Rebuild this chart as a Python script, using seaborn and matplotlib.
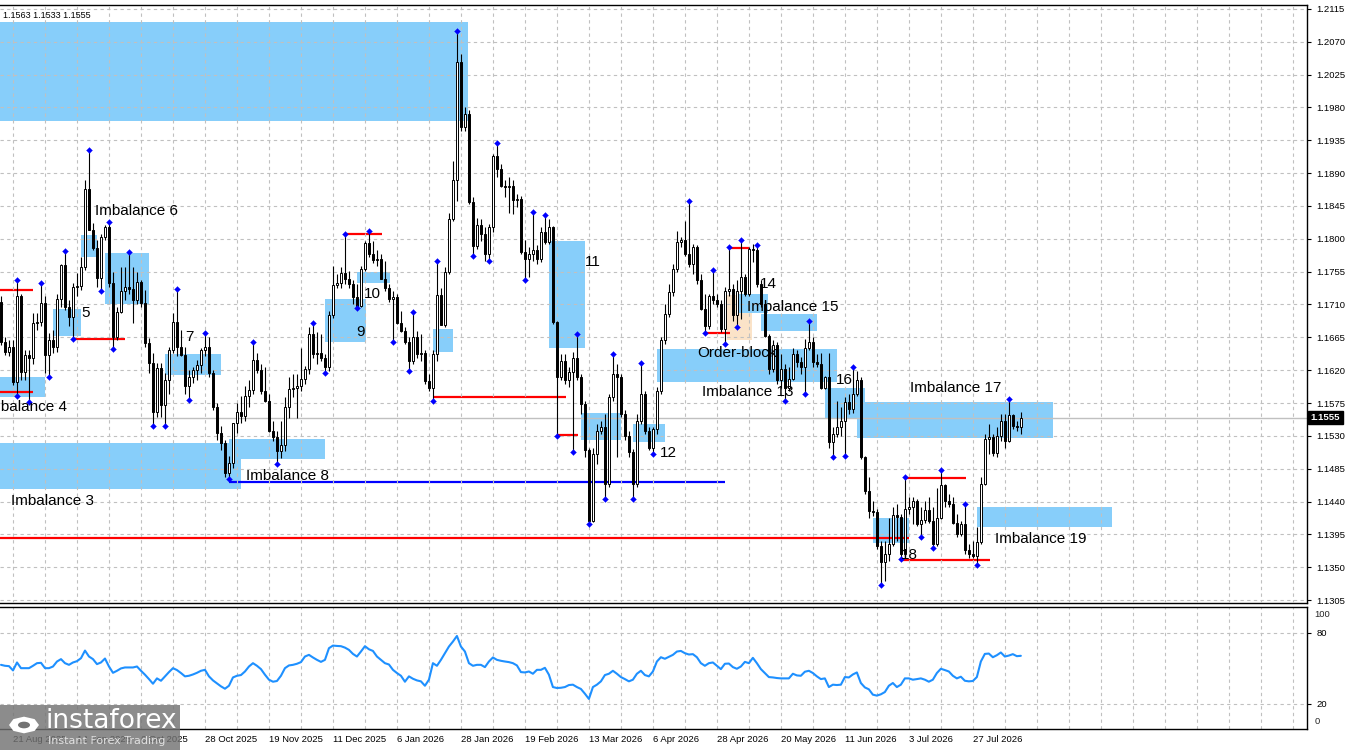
import matplotlib
matplotlib.use("Agg")
import numpy as np
import matplotlib.pyplot as plt
import matplotlib.transforms as mtransforms
from matplotlib.patches import Rectangle, Circle, RegularPolygon
import seaborn as sns

# ------------------------------
# Daily EUR/USD candles
# ------------------------------
opens = [
    1.1714, 1.1659, 1.1645, 1.1652, 1.1604, 1.1721, 1.1618, 1.1641, 1.1636, 1.1684,
    1.1686, 1.1712, 1.1641, 1.1661, 1.1652, 1.1718, 1.1764, 1.1707, 1.1693, 1.1734,
    1.1736, 1.1762, 1.1868, 1.1812, 1.1788, 1.1746, 1.1803, 1.1816, 1.1739, 1.1666,
    1.1700, 1.1728, 1.1734, 1.1731, 1.1716, 1.1741, 1.1712, 1.1657, 1.1630, 1.1563,
    1.1623, 1.1572, 1.1607, 1.1648, 1.1686, 1.1652, 1.1641, 1.1598, 1.1611, 1.1620,
    1.1627, 1.1647, 1.1652, 1.1616, 1.1570, 1.1534, 1.1520, 1.1479, 1.1493, 1.1547,
    1.1563, 1.1557, 1.1584, 1.1593, 1.1634, 1.1620, 1.1592, 1.1578, 1.1537, 1.1528,
    1.1509, 1.1518, 1.1569, 1.1594, 1.1596, 1.1599, 1.1608, 1.1621, 1.1669, 1.1642,
    1.1644, 1.1637, 1.1624, 1.1695, 1.1737, 1.1739, 1.1753, 1.1745, 1.1738, 1.1720,
    1.1708, 1.1759, 1.1794, 1.1779, 1.1771, 1.1773, 1.1745, 1.1733, 1.1717, 1.1720,
    1.1685, 1.1674, 1.1658, 1.1633, 1.1666, 1.1642, 1.1644, 1.1605, 1.1596, 1.1642,
    1.1723, 1.1682, 1.1754, 1.1827, 1.1881, 1.2042, 1.1953, 1.1971, 1.1850, 1.1790,
    1.1819, 1.1806, 1.1779, 1.1816, 1.1914, 1.1896, 1.1873, 1.1871, 1.1873, 1.1853,
    1.1855, 1.1782, 1.1773, 1.1779, 1.1785, 1.1773, 1.1809, 1.1795, 1.1816, 1.1686,
    1.1610, 1.1633, 1.1606, 1.1617, 1.1636, 1.1610, 1.1574, 1.1510, 1.1414, 1.1505,
    1.1537, 1.1542, 1.1464, 1.1583, 1.1615, 1.1610, 1.1560, 1.1530, 1.1508, 1.1464,
    1.1551, 1.1588, 1.1537, 1.1514, 1.1540, 1.1592, 1.1661, 1.1697, 1.1727, 1.1758,
    1.1795, 1.1799, 1.1779, 1.1766, 1.1789, 1.1743, 1.1704, 1.1681, 1.1722, 1.1716,
    1.1711, 1.1677, 1.1729, 1.1731, 1.1695, 1.1729, 1.1747, 1.1725, 1.1786, 1.1784,
    1.1738, 1.1711, 1.1667, 1.1622, 1.1654, 1.1607, 1.1622, 1.1596, 1.1608, 1.1642,
    1.1631, 1.1624, 1.1651, 1.1658, 1.1631, 1.1629, 1.1596, 1.1610, 1.1521, 1.1533,
    1.1542, 1.1551, 1.1576, 1.1567, 1.1587, 1.1607, 1.1501, 1.1455, 1.1427, 1.1425,
    1.1379, 1.1357, 1.1368, 1.1382, 1.1421, 1.1419, 1.1368, 1.1430, 1.1432, 1.1441,
    1.1409, 1.1415, 1.1428, 1.1414, 1.1382, 1.1418, 1.1462, 1.1441, 1.1437, 1.1411,
    1.1395, 1.1409, 1.1373, 1.1368, 1.1366, 1.1384, 1.1464, 1.1526, 1.1528, 1.1507,
    1.1530, 1.1551, 1.1523, 1.1558, 1.1544, 1.1542,
]
highs = [
    1.1721, 1.1666, 1.1661, 1.1661, 1.1744, 1.1725, 1.1648, 1.1648, 1.1698, 1.1698,
    1.1739, 1.1721, 1.1671, 1.1675, 1.1725, 1.1766, 1.1783, 1.1716, 1.1739, 1.1753,
    1.1775, 1.1880, 1.1921, 1.1821, 1.1798, 1.1807, 1.1819, 1.1823, 1.1755, 1.1707,
    1.1762, 1.1762, 1.1782, 1.1762, 1.1755, 1.1743, 1.1730, 1.1664, 1.1643, 1.1630,
    1.1630, 1.1616, 1.1652, 1.1698, 1.1731, 1.1675, 1.1652, 1.1620, 1.1625, 1.1634,
    1.1650, 1.1671, 1.1666, 1.1620, 1.1575, 1.1543, 1.1525, 1.1502, 1.1548, 1.1575,
    1.1584, 1.1598, 1.1607, 1.1659, 1.1643, 1.1628, 1.1624, 1.1587, 1.1551, 1.1537,
    1.1551, 1.1583, 1.1610, 1.1615, 1.1615, 1.1651, 1.1626, 1.1679, 1.1684, 1.1672,
    1.1669, 1.1642, 1.1701, 1.1763, 1.1752, 1.1761, 1.1807, 1.1756, 1.1743, 1.1738,
    1.1763, 1.1797, 1.1811, 1.1797, 1.1784, 1.1779, 1.1770, 1.1738, 1.1729, 1.1724,
    1.1701, 1.1679, 1.1665, 1.1700, 1.1674, 1.1669, 1.1647, 1.1615, 1.1647, 1.1770,
    1.1733, 1.1761, 1.1835, 1.1907, 1.2085, 1.2053, 1.1980, 1.1976, 1.1857, 1.1829,
    1.1827, 1.1816, 1.1820, 1.1916, 1.1931, 1.1903, 1.1880, 1.1885, 1.1880, 1.1862,
    1.1859, 1.1798, 1.1789, 1.1837, 1.1791, 1.1816, 1.1832, 1.1827, 1.1818, 1.1688,
    1.1642, 1.1642, 1.1624, 1.1645, 1.1670, 1.1615, 1.1578, 1.1514, 1.1514, 1.1546,
    1.1551, 1.1560, 1.1588, 1.1642, 1.1629, 1.1615, 1.1565, 1.1537, 1.1512, 1.1560,
    1.1630, 1.1592, 1.1542, 1.1542, 1.1597, 1.1665, 1.1711, 1.1738, 1.1766, 1.1811,
    1.1802, 1.1825, 1.1852, 1.1793, 1.1791, 1.1752, 1.1725, 1.1725, 1.1757, 1.1725,
    1.1716, 1.1734, 1.1789, 1.1738, 1.1743, 1.1799, 1.1752, 1.1789, 1.1793, 1.1791,
    1.1743, 1.1715, 1.1670, 1.1661, 1.1658, 1.1642, 1.1629, 1.1624, 1.1651, 1.1647,
    1.1638, 1.1663, 1.1687, 1.1665, 1.1642, 1.1644, 1.1612, 1.1644, 1.1542, 1.1578,
    1.1569, 1.1583, 1.1587, 1.1624, 1.1619, 1.1610, 1.1503, 1.1473, 1.1441, 1.1430,
    1.1386, 1.1386, 1.1418, 1.1432, 1.1437, 1.1423, 1.1473, 1.1446, 1.1446, 1.1443,
    1.1432, 1.1441, 1.1446, 1.1432, 1.1459, 1.1483, 1.1464, 1.1450, 1.1446, 1.1423,
    1.1414, 1.1437, 1.1382, 1.1386, 1.1405, 1.1473, 1.1533, 1.1546, 1.1533, 1.1542,
    1.1560, 1.1560, 1.1580, 1.1560, 1.1551, 1.1563,
]
lows = [
    1.1655, 1.1641, 1.1639, 1.1600, 1.1585, 1.1607, 1.1607, 1.1576, 1.1629, 1.1675,
    1.1680, 1.1616, 1.1610, 1.1643, 1.1645, 1.1707, 1.1703, 1.1680, 1.1663, 1.1721,
    1.1730, 1.1757, 1.1812, 1.1785, 1.1734, 1.1728, 1.1798, 1.1734, 1.1649, 1.1661,
    1.1698, 1.1716, 1.1725, 1.1684, 1.1711, 1.1707, 1.1652, 1.1616, 1.1544, 1.1556,
    1.1556, 1.1544, 1.1588, 1.1643, 1.1639, 1.1639, 1.1588, 1.1579, 1.1602, 1.1607,
    1.1616, 1.1639, 1.1611, 1.1566, 1.1525, 1.1511, 1.1474, 1.1471, 1.1486, 1.1534,
    1.1547, 1.1550, 1.1570, 1.1588, 1.1616, 1.1587, 1.1576, 1.1535, 1.1523, 1.1491,
    1.1500, 1.1509, 1.1555, 1.1583, 1.1554, 1.1592, 1.1601, 1.1615, 1.1637, 1.1628,
    1.1633, 1.1616, 1.1619, 1.1692, 1.1733, 1.1733, 1.1738, 1.1733, 1.1711, 1.1705,
    1.1706, 1.1756, 1.1775, 1.1767, 1.1763, 1.1745, 1.1729, 1.1713, 1.1659, 1.1683,
    1.1672, 1.1656, 1.1619, 1.1628, 1.1637, 1.1633, 1.1601, 1.1592, 1.1578, 1.1633,
    1.1682, 1.1679, 1.1752, 1.1825, 1.1852, 1.1948, 1.1948, 1.1848, 1.1777, 1.1786,
    1.1797, 1.1770, 1.1769, 1.1809, 1.1884, 1.1871, 1.1857, 1.1835, 1.1834, 1.1843,
    1.1779, 1.1744, 1.1747, 1.1770, 1.1766, 1.1768, 1.1793, 1.1793, 1.1683, 1.1530,
    1.1606, 1.1601, 1.1597, 1.1508, 1.1606, 1.1560, 1.1501, 1.1409, 1.1412, 1.1492,
    1.1533, 1.1444, 1.1460, 1.1578, 1.1501, 1.1556, 1.1524, 1.1501, 1.1444, 1.1460,
    1.1546, 1.1533, 1.1510, 1.1505, 1.1533, 1.1588, 1.1656, 1.1693, 1.1722, 1.1754,
    1.1789, 1.1777, 1.1761, 1.1752, 1.1738, 1.1702, 1.1671, 1.1677, 1.1711, 1.1706,
    1.1672, 1.1656, 1.1722, 1.1688, 1.1679, 1.1690, 1.1722, 1.1722, 1.1768, 1.1734,
    1.1706, 1.1665, 1.1615, 1.1617, 1.1601, 1.1596, 1.1578, 1.1592, 1.1606, 1.1624,
    1.1615, 1.1587, 1.1647, 1.1624, 1.1624, 1.1594, 1.1594, 1.1514, 1.1501, 1.1528,
    1.1530, 1.1503, 1.1560, 1.1562, 1.1585, 1.1498, 1.1450, 1.1418, 1.1420, 1.1375,
    1.1325, 1.1331, 1.1359, 1.1379, 1.1386, 1.1361, 1.1366, 1.1423, 1.1409, 1.1407,
    1.1392, 1.1411, 1.1411, 1.1377, 1.1379, 1.1416, 1.1432, 1.1432, 1.1409, 1.1391,
    1.1393, 1.1368, 1.1363, 1.1363, 1.1353, 1.1382, 1.1462, 1.1505, 1.1503, 1.1501,
    1.1523, 1.1514, 1.1521, 1.1539, 1.1537, 1.1533,
]
closes = [
    1.1659, 1.1645, 1.1652, 1.1604, 1.1721, 1.1618, 1.1641, 1.1636, 1.1684, 1.1686,
    1.1712, 1.1641, 1.1661, 1.1652, 1.1718, 1.1764, 1.1707, 1.1693, 1.1734, 1.1736,
    1.1762, 1.1868, 1.1812, 1.1788, 1.1746, 1.1803, 1.1816, 1.1739, 1.1666, 1.1700,
    1.1728, 1.1734, 1.1731, 1.1716, 1.1741, 1.1712, 1.1657, 1.1630, 1.1563, 1.1623,
    1.1572, 1.1607, 1.1648, 1.1686, 1.1652, 1.1641, 1.1598, 1.1611, 1.1620, 1.1627,
    1.1647, 1.1652, 1.1616, 1.1570, 1.1534, 1.1520, 1.1479, 1.1493, 1.1547, 1.1563,
    1.1557, 1.1584, 1.1593, 1.1634, 1.1620, 1.1592, 1.1578, 1.1537, 1.1528, 1.1509,
    1.1518, 1.1569, 1.1594, 1.1596, 1.1599, 1.1608, 1.1621, 1.1669, 1.1642, 1.1644,
    1.1637, 1.1624, 1.1695, 1.1737, 1.1739, 1.1753, 1.1745, 1.1738, 1.1720, 1.1708,
    1.1759, 1.1794, 1.1779, 1.1771, 1.1773, 1.1745, 1.1733, 1.1717, 1.1720, 1.1685,
    1.1674, 1.1658, 1.1633, 1.1666, 1.1642, 1.1644, 1.1605, 1.1596, 1.1642, 1.1723,
    1.1682, 1.1754, 1.1827, 1.1881, 1.2042, 1.1953, 1.1971, 1.1850, 1.1790, 1.1819,
    1.1806, 1.1779, 1.1816, 1.1914, 1.1896, 1.1873, 1.1871, 1.1873, 1.1853, 1.1855,
    1.1782, 1.1773, 1.1779, 1.1785, 1.1773, 1.1809, 1.1795, 1.1816, 1.1686, 1.1610,
    1.1633, 1.1606, 1.1617, 1.1636, 1.1610, 1.1574, 1.1510, 1.1414, 1.1505, 1.1537,
    1.1542, 1.1464, 1.1583, 1.1615, 1.1610, 1.1560, 1.1530, 1.1508, 1.1464, 1.1551,
    1.1588, 1.1537, 1.1514, 1.1540, 1.1592, 1.1661, 1.1697, 1.1727, 1.1758, 1.1795,
    1.1799, 1.1779, 1.1766, 1.1789, 1.1743, 1.1704, 1.1681, 1.1722, 1.1716, 1.1711,
    1.1677, 1.1729, 1.1731, 1.1695, 1.1729, 1.1747, 1.1725, 1.1786, 1.1784, 1.1738,
    1.1711, 1.1667, 1.1622, 1.1654, 1.1607, 1.1622, 1.1596, 1.1608, 1.1642, 1.1631,
    1.1624, 1.1651, 1.1658, 1.1631, 1.1629, 1.1596, 1.1610, 1.1521, 1.1533, 1.1542,
    1.1551, 1.1576, 1.1567, 1.1587, 1.1607, 1.1501, 1.1455, 1.1427, 1.1425, 1.1379,
    1.1357, 1.1368, 1.1382, 1.1421, 1.1419, 1.1368, 1.1430, 1.1432, 1.1441, 1.1409,
    1.1415, 1.1428, 1.1414, 1.1382, 1.1418, 1.1462, 1.1441, 1.1437, 1.1411, 1.1395,
    1.1409, 1.1373, 1.1368, 1.1366, 1.1384, 1.1464, 1.1526, 1.1528, 1.1507, 1.1530,
    1.1551, 1.1523, 1.1558, 1.1544, 1.1542, 1.1555,
]

# RSI values per bar
rsi = [
    52.9, 52.1, 51.8, 48.2, 54.9, 50.1, 50.1, 50.1, 52.1, 54.3,
    54.6, 50.1, 50.1, 51.5, 55.7, 57.7, 54.3, 52.9, 54.9, 56.0,
    58.5, 64.9, 59.9, 57.7, 53.5, 54.9, 58.2, 51.5, 46.2, 47.9,
    49.9, 50.7, 50.7, 50.7, 51.5, 47.9, 44.6, 40.9, 37.0, 41.5,
    39.5, 43.2, 46.8, 50.1, 48.5, 46.0, 43.2, 43.7, 44.8, 46.2,
    47.9, 48.7, 43.2, 39.8, 37.3, 34.8, 32.8, 35.3, 42.3, 43.7,
    44.3, 47.3, 51.5, 54.3, 52.1, 49.3, 44.6, 40.4, 38.7, 39.3,
    43.7, 50.1, 52.4, 52.9, 53.8, 55.2, 59.9, 61.3, 59.1, 57.1,
    55.4, 57.1, 66.9, 69.1, 68.8, 68.6, 67.4, 65.5, 62.1, 59.9,
    64.1, 68.6, 66.0, 64.6, 59.9, 57.1, 54.3, 53.2, 48.7, 46.0,
    43.7, 38.7, 43.2, 41.2, 39.8, 39.0, 35.3, 40.4, 54.3, 52.1,
    57.1, 62.7, 68.3, 72.5, 77.2, 68.3, 64.1, 54.3, 52.1, 52.9,
    52.9, 51.0, 55.7, 59.1, 57.1, 56.3, 55.7, 55.2, 54.3, 52.4,
    46.8, 46.5, 47.3, 45.4, 48.7, 48.7, 50.4, 44.6, 34.2, 33.4,
    33.6, 34.2, 35.9, 36.2, 34.2, 32.6, 28.6, 24.2, 34.2, 36.2,
    39.0, 44.3, 45.4, 47.9, 45.4, 42.6, 40.9, 39.0, 40.4, 45.4,
    47.9, 44.3, 43.2, 47.3, 55.7, 59.3, 58.0, 59.6, 61.3, 64.1,
    64.6, 62.7, 61.6, 61.9, 59.3, 54.3, 52.1, 54.3, 54.9, 52.1,
    49.3, 53.8, 54.0, 51.0, 49.6, 51.5, 55.4, 54.3, 58.8, 54.3,
    49.3, 46.0, 42.6, 42.3, 41.8, 41.5, 41.5, 41.5, 45.4, 44.0,
    43.7, 47.1, 47.9, 46.0, 43.2, 40.9, 41.5, 34.2, 36.2, 35.9,
    36.2, 42.6, 42.3, 44.8, 46.5, 37.6, 33.9, 32.3, 27.8, 27.0,
    28.1, 30.0, 35.3, 37.6, 34.2, 36.2, 41.5, 41.5, 40.4, 40.9,
    41.5, 40.4, 38.7, 40.4, 46.0, 49.6, 48.5, 47.3, 43.7, 41.5,
    42.9, 39.5, 39.0, 39.3, 42.6, 55.7, 62.1, 62.4, 59.3, 61.0,
    63.3, 59.9, 60.7, 61.9, 60.2, 60.5,
]

# fractal markers (bar indices)
fractal_up = [4, 10, 16, 22, 27, 32, 44, 51, 63, 78, 86, 92, 103, 109, 114, 124,
              133, 136, 144, 153, 160, 172, 178, 182, 185, 189, 202, 213, 226,
              235, 241, 252]
fractal_down = [4, 7, 12, 18, 25, 28, 38, 41, 47, 57, 69, 81, 89, 98, 102, 108,
                118, 122, 131, 139, 143, 147, 151, 158, 163, 176, 181, 184, 196,
                201, 208, 211, 220, 225, 230, 233, 244]

# imbalance zones (bar from, bar to, price low, price high)
zone_start = [-0.5, -0.5, -0.5, 13, 20, 26, 41, 57, 81, 89, 108, 137, 145, 158,
              164, 184, 190, 206, 214, 218, 244]
zone_end = [116.75, 11, 60, 20, 24, 37, 55, 81, 91.25, 97.25, 113, 146, 155, 166,
            209, 191.75, 204, 216, 263, 227, 277.75]
zone_low = [1.1961, 1.1583, 1.1457, 1.1667, 1.1775, 1.1710, 1.1613, 1.1498, 1.1658,
            1.1739, 1.1645, 1.1650, 1.1524, 1.1522, 1.1604, 1.1699, 1.1673, 1.1554,
            1.1527, 1.1383, 1.1405]
zone_high = [1.2097, 1.1610, 1.1520, 1.1704, 1.1805, 1.1780, 1.1642, 1.1526, 1.1717,
             1.1755, 1.1676, 1.1797, 1.1561, 1.1546, 1.1649, 1.1725, 1.1697, 1.1595,
             1.1576, 1.1418, 1.1432]

# order block
ob_start, ob_end, ob_low, ob_high = 181.5, 187.75, 1.1661, 1.1723

# red levels
level_price = [1.1730, 1.1590, 1.1663, 1.1806, 1.1583, 1.1531, 1.1787, 1.1671,
               1.1390, 1.1472, 1.1360]
level_start = [-0.5, -0.5, 18, 86, 108, 139, 181.75, 176, -0.5, 226, 225]
level_end = [8, 8, 31, 95.25, 141.25, 144.25, 187.25, 182.25, 227, 241.25, 247.25]

# blue level
blue_price, blue_start, blue_end = 1.1467, 57, 181

# labels
label_text = ["Imbalance 6", "5", "Imbalance 4", "7", "Imbalance 3", "Imbalance 8",
              "9", "10", "11", "12", "Order-block", "Imbalance 13", "14",
              "Imbalance 15", "16", "Imbalance 17", "18", "Imbalance 19"]
label_bar = [23.5, 20, 16.5, 46, 2.5, 61.25, 88.75, 90.75, 146, 164.75, 174,
             175.25, 189.75, 186.5, 208.75, 227.25, 225, 248.5]
label_price = [1.1838, 1.1699, 1.1569, 1.1665, 1.1441, 1.1475, 1.1672, 1.1725,
               1.1768, 1.1506, 1.1643, 1.1590, 1.1738, 1.1706, 1.1606, 1.1595,
               1.1367, 1.1389]
label_align = ["left"] * 18
label_align[2] = "right"

# date axis
date_bars = [3, 19, 35, 51, 67, 83, 99, 115, 131, 147, 163, 179, 195, 211, 227, 243]
date_labels = ["21 Aug 2025", "12 Sep 2025", "6 Oct 2025", "28 Oct 2025",
               "19 Nov 2025", "11 Dec 2025", "6 Jan 2026", "28 Jan 2026",
               "19 Feb 2026", "13 Mar 2026", "6 Apr 2026", "28 Apr 2026",
               "20 May 2026", "11 Jun 2026", "3 Jul 2026", "27 Jul 2026"]

price_ticks = [1.1305 + 0.0045 * k for k in range(19)]
last_price = 1.1555

# ------------------------------
# Figure setup
# ------------------------------
sns.set_style("white")
plt.rcParams['font.family'] = ['DejaVu Sans']
axis_font = ['Liberation Sans', 'DejaVu Sans']

fig = plt.figure(figsize=(13.5, 7.5), dpi=100)
ax = fig.add_axes([0, 0.196, 0.968, 0.797])
ax_rsi = fig.add_axes([0, 0.028, 0.968, 0.1627])

xmin, xmax = -0.25, 326.5
grid_bars = list(range(3, 327, 8))
grid_kw = dict(color='#c0c0c0', lw=0.8, ls=(0, (3, 3)))

# ------------------------------
# Main price panel
# ------------------------------
for x0, x1, lo, hi in zip(zone_start, zone_end, zone_low, zone_high):
    ax.add_patch(Rectangle((x0, lo), x1 - x0, hi - lo, facecolor='#87cefa',
                           edgecolor='none', zorder=0.5))
ax.add_patch(Rectangle((ob_start, ob_low), ob_end - ob_start, ob_high - ob_low,
                       facecolor='#fbe3c8', edgecolor='none', zorder=0.4))

ax.set_xticks(grid_bars)
ax.set_yticks(price_ticks)
ax.grid(True, **grid_kw)
ax.set_axisbelow(False)
for gl in ax.get_xgridlines() + ax.get_ygridlines():
    gl.set_zorder(1)

ax.axhline(last_price, color='#c0c0c0', lw=1, zorder=1.5)

for p, x0, x1 in zip(level_price, level_start, level_end):
    ax.hlines(p, x0, x1, color='red', lw=1.6, zorder=2)
ax.hlines(blue_price, blue_start, blue_end, color='blue', lw=1.6, zorder=2)

bars = np.arange(len(closes))
o = np.array(opens)
c = np.array(closes)
h = np.array(highs)
l = np.array(lows)
up = c >= o
ax.vlines(bars, l, h, color='black', lw=0.8, zorder=3)
body_low = np.minimum(o, c)
body_h = np.maximum(np.abs(c - o), 0.00006)
ax.bar(bars[up], body_h[up], bottom=body_low[up], width=0.6, color='white',
       edgecolor='black', linewidth=0.7, zorder=4)
ax.bar(bars[~up], body_h[~up], bottom=body_low[~up], width=0.6, color='black',
       edgecolor='black', linewidth=0.7, zorder=4)

sns.scatterplot(x=fractal_up, y=[highs[i] for i in fractal_up], ax=ax, marker='D',
                s=9, color='blue', edgecolor='blue', zorder=5)
sns.scatterplot(x=fractal_down, y=[lows[i] for i in fractal_down], ax=ax, marker='D',
                s=9, color='blue', edgecolor='blue', zorder=5)

for txt, xb, yp, ha in zip(label_text, label_bar, label_price, label_align):
    ax.text(xb, yp, txt, fontsize=11, family=axis_font,
            ha=ha, va='center', color='black', zorder=6, clip_on=True)

ax.text(0.002, 0.99, "1.1563 1.1533 1.1555", transform=ax.transAxes, fontsize=6.5,
        family=axis_font, ha='left', va='top', color='black', zorder=7)

ax.set_xlim(xmin, xmax)
ax.set_ylim(1.1301, 1.2120)
ax.yaxis.tick_right()
ax.set_yticklabels([f"{t:.4f}" for t in price_ticks], family=axis_font)
ax.tick_params(axis='y', labelsize=6.8, length=3, pad=4, colors='black', direction='out')
ax.tick_params(axis='x', length=0, labelbottom=False)
for side in ['top', 'right', 'bottom']:
    ax.spines[side].set_color('black')
    ax.spines[side].set_linewidth(1)
ax.spines['left'].set_visible(False)

trans = mtransforms.blended_transform_factory(ax.transAxes, ax.transData)
ax.text(1.003, last_price, "1.1555", transform=trans, fontsize=6.8, color='white',
        family=axis_font, fontweight='bold', ha='left', va='center',
        bbox=dict(boxstyle='square,pad=0.25', facecolor='black', edgecolor='black'))

# ------------------------------
# RSI panel
# ------------------------------
sns.lineplot(x=bars, y=rsi, ax=ax_rsi, color='#1e90ff', lw=1.5)
ax_rsi.set_xlim(xmin, xmax)
ax_rsi.set_ylim(-1.1, 101.6)
ax_rsi.set_xticks(grid_bars)
lab_map = dict(zip(date_bars, date_labels))
ax_rsi.set_xticklabels([lab_map.get(b, "") for b in grid_bars], family=axis_font)
for t in ax_rsi.get_xticklabels():
    t.set_ha('left')
ax_rsi.tick_params(axis='x', labelsize=6.8, length=3, pad=1.5, colors='black')
ax_rsi.set_yticks([80, 20])
ax_rsi.set_yticklabels(["80", "20"], family=axis_font)
ax_rsi.yaxis.tick_right()
ax_rsi.tick_params(axis='y', labelsize=6.8, length=3, pad=4, colors='black')
ax_rsi.grid(True, **grid_kw)
ax_rsi.set_xlabel("")
ax_rsi.set_ylabel("")
trans_r = mtransforms.blended_transform_factory(ax_rsi.transAxes, ax_rsi.transData)
ax_rsi.text(1.006, 95, "100", transform=trans_r, fontsize=6.8, family=axis_font,
            ha='left', va='center')
ax_rsi.text(1.006, 4.8, "0", transform=trans_r, fontsize=6.8, family=axis_font,
            ha='left', va='center')
for side in ['top', 'right', 'bottom']:
    ax_rsi.spines[side].set_color('black')
    ax_rsi.spines[side].set_linewidth(1)
ax_rsi.spines['left'].set_visible(False)

# ------------------------------
# Watermark
# ------------------------------
fig.patches.append(Rectangle((0, 0), 180 / 1350, 45 / 750, transform=fig.transFigure,
                             facecolor=(0.45, 0.45, 0.45, 0.82), edgecolor='none',
                             zorder=10))
fig.patches.append(RegularPolygon((24 / 1350, 25 / 750), numVertices=8, radius=15 / 1350,
                                  transform=fig.transFigure, facecolor='white',
                                  edgecolor='none', zorder=11))
fig.patches.append(Circle((24 / 1350, 25 / 750), 6 / 1350, transform=fig.transFigure,
                          facecolor=(0.45, 0.45, 0.45), edgecolor='none', zorder=12))
fig.text(45 / 1350, 29 / 750, "instaforex", fontsize=19, color='white',
         ha='left', va='center', zorder=12)
fig.text(48 / 1350, 9 / 750, "Instant Forex Trading", fontsize=8, color='#e0e0e0',
         ha='left', va='center', zorder=12)

fig.savefig("out.png", dpi=100)
